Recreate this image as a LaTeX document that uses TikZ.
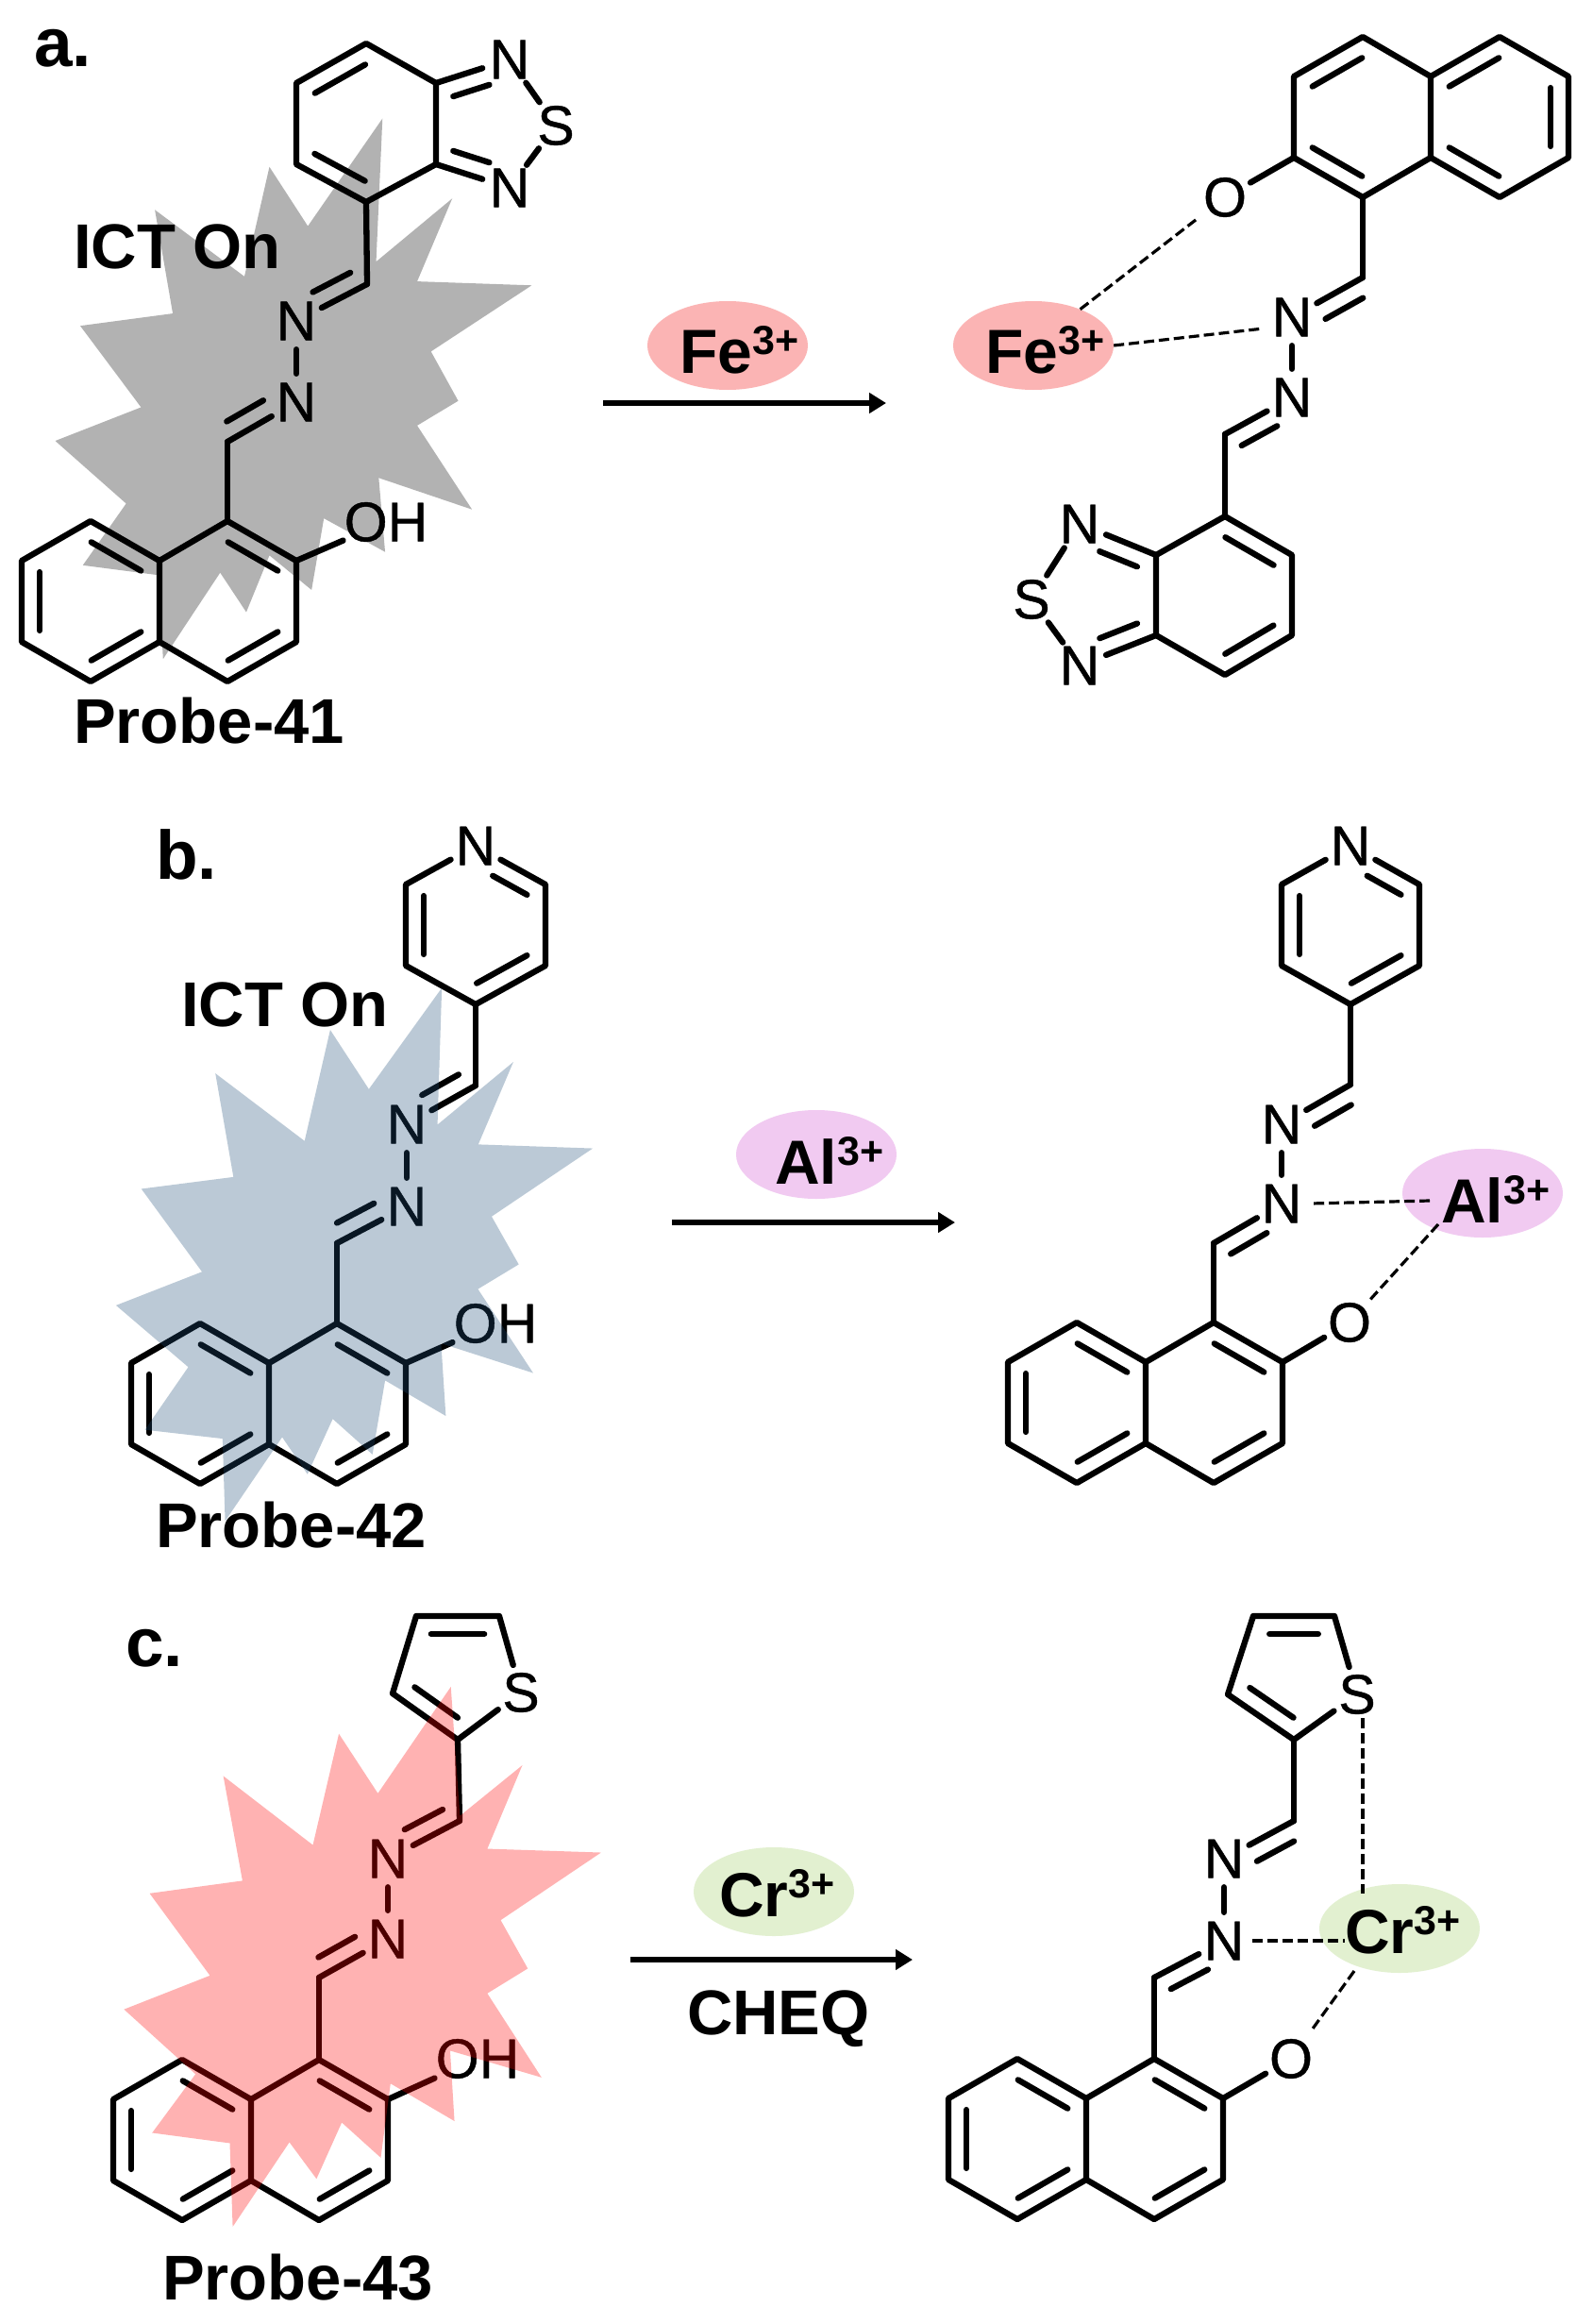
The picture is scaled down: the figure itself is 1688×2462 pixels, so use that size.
\documentclass[tikz,border=0pt]{standalone}
\usepackage{fontspec}
\setmainfont{Liberation Sans}
\newfontfamily\atomfam[FakeBold=0.7]{Liberation Sans}
\usetikzlibrary{calc,arrows.meta,shapes.geometric}
\definecolor{feion}{HTML}{FBB4B4}
\definecolor{alion}{HTML}{F1CAF1}
\definecolor{crion}{HTML}{E2F0D0}
\definecolor{starblue}{HTML}{1F4E79}
\newcommand\atomfont{\fontsize{59}{62}\atomfam\selectfont}
\newcommand\labfont{\fontsize{67}{72}\selectfont\bfseries}
\newcommand\ionfont{\fontsize{66}{70}\selectfont\bfseries}
\newcommand\panelfont{\fontsize{73}{77}\selectfont\bfseries}
\newcommand\ionsup{\raisebox{20pt}{\fontsize{43}{43}\selectfont 3+}}
% inner line of a double bond: from a to b, on side given by angle, fractions f1..f2
\newcommand\db[5]{\draw[bond] ($(#1)!#4!(#2)!19pt!#3:(#2)$) -- ($(#1)!#5!(#2)!19pt!#3:(#2)$);}
\newcommand\ringdb[2]{\db{#1}{#2}{-90}{0.14}{0.86}}
\newcommand\cn[3]{\draw[bond] (#1) -- (#2); \db{#1}{#2}{#3}{0.12}{0.65}}
\newcommand\naph[5]{%
  \coordinate (#1c1) at (#2,#3);
  \coordinate (#1c2) at ({#2+#4*73},{#3+#5*42});
  \coordinate (#1c3) at ({#2+#4*73},{#3+#5*128});
  \coordinate (#1c4) at ({#2},{#3+#5*170});
  \coordinate (#1c4a) at ({#2-#4*72},{#3+#5*128});
  \coordinate (#1c8a) at ({#2-#4*72},{#3+#5*42});
  \coordinate (#1c8) at ({#2-#4*145},{#3});
  \coordinate (#1c7) at ({#2-#4*218},{#3+#5*42});
  \coordinate (#1c6) at ({#2-#4*218},{#3+#5*128});
  \coordinate (#1c5) at ({#2-#4*145},{#3+#5*170});
  \draw[bond] (#1c1) -- (#1c2) -- (#1c3) -- (#1c4) -- (#1c4a) -- (#1c8a) -- cycle;
  \draw[bond] (#1c8a) -- (#1c8) -- (#1c7) -- (#1c6) -- (#1c5) -- (#1c4a);
  \ringdb{#1c1}{#1c2}\ringdb{#1c3}{#1c4}\ringdb{#1c8}{#1c8a}\ringdb{#1c4a}{#1c5}\ringdb{#1c6}{#1c7}}
\begin{document}
\begin{tikzpicture}[x=1pt,y=-1pt,
  bond/.style={line width=6.3pt,line cap=round,line join=round},
  atom/.style={circle,inner sep=0pt,minimum size=60pt,font=\atomfont},
  ohlab/.style={rectangle,inner sep=1pt,font=\atomfont},
  lab/.style={anchor=base west,inner sep=0pt,font=\labfont},
  ionlab/.style={anchor=base west,inner sep=0pt,font=\ionfont},
  panel/.style={anchor=base west,inner sep=0pt,font=\panelfont},
  ion/.style={ellipse,minimum width=170pt,minimum height=94pt,inner sep=0pt},
  dashbond/.style={line width=3.2pt,dash pattern=on 11pt off 5pt},
  rxn/.style={line width=5.5pt,-{Triangle[length=18pt,width=21pt]}}]
\path[use as bounding box,fill=white] (0,0) rectangle (1688,2462);

%% ---------- panel a, left
\node[panel] (pa) at (36,71) {a.};
\coordinate (a1) at (388,46); \coordinate (a2) at (462,88); \coordinate (a3) at (462,174);
\coordinate (a4) at (388,214); \coordinate (a5) at (314,174); \coordinate (a6) at (314,88);
\draw[bond] (a1) -- (a2) -- (a3) -- (a4) -- (a5) -- (a6) -- cycle;
\ringdb{a6}{a1}\ringdb{a4}{a5}
\node[atom] (aN1) at (540,63) {N}; \node[atom] (aS) at (589,133) {S}; \node[atom] (aN2) at (540,199) {N};
\draw[bond] (a2) -- (aN1); \db{a2}{aN1}{-90}{0.16}{0.65}
\draw[bond] (a3) -- (aN2); \db{a3}{aN2}{90}{0.16}{0.65}
\draw[bond] (aN1) -- (aS); \draw[bond] (aN2) -- (aS);
\coordinate (ac) at (389,301); \draw[bond] (a4) -- (ac);
\node[atom] (an1) at (314,340) {N}; \node[atom] (an2) at (314,426) {N};
\cn{ac}{an1}{-90}
\draw[bond] (an1) -- (an2);
\coordinate (ad) at (241,468); \cn{ad}{an2}{90}
\naph{al}{241}{552}{1}{1}
\draw[bond] (ad) -- (alc1);
\node[ohlab] (aOH) at (409,553) {OH}; \draw[bond] (alc2) -- (aOH);
\node[lab] (aict) at (78,284) {ICT On};
\node[lab] (aprobe) at (78,787) {Probe-41};
\begin{scope}[x=.3954pt,y=-.523pt]
\fill[black,opacity=.3] (1025,240) -- (1008,530) -- (1212,402) -- (1118,570) -- (1425,578) -- (1155,712) -- (1228,812) -- (1118,862) -- (1265,1032) -- (1015,968) -- (1032,1118) -- (868,1050) -- (835,1195) -- (722,1125) -- (660,1240) -- (590,1160) -- (437,1335) -- (425,1165) -- (222,1145) -- (338,1020) -- (148,893) -- (378,825) -- (215,660) -- (463,635) -- (415,425) -- (655,560) -- (722,338) -- (825,458) -- cycle;
\end{scope}

%% panel a, arrow
\node[ion,fill=feion] (feT) at (771,366) {};
\node[ionlab] (feTt) at (720,395) {Fe\ionsup};
\coordinate (aa1) at (639,427); \coordinate (aa2) at (939,427);
\draw[rxn] (aa1) -- (aa2);

%% panel a, right
\naph{ar}{1444}{209}{-1}{-1}
\node[atom] (arO) at (1298,209) {O}; \draw[bond] (arc2) -- (arO);
\coordinate (arc) at (1444,294); \draw[bond] (arc1) -- (arc);
\node[atom] (arn1) at (1369,336) {N}; \node[atom] (arn2) at (1369,421) {N};
\cn{arc}{arn1}{90}
\draw[bond] (arn1) -- (arn2);
\coordinate (ard) at (1298,460); \cn{ard}{arn2}{-90}
\coordinate (b1) at (1298,547); \coordinate (b2) at (1369,588); \coordinate (b3) at (1369,673);
\coordinate (b4) at (1298,715); \coordinate (b5) at (1225,673); \coordinate (b6) at (1225,588);
\draw[bond] (ard) -- (b1);
\draw[bond] (b1) -- (b2) -- (b3) -- (b4) -- (b5) -- (b6) -- cycle;
\ringdb{b1}{b2}\ringdb{b3}{b4}
\node[atom] (bN1) at (1144,555) {N}; \node[atom] (bS) at (1093,635) {S}; \node[atom] (bN2) at (1144,705) {N};
\draw[bond] (b6) -- (bN1); \db{b6}{bN1}{90}{0.16}{0.65}
\draw[bond] (b5) -- (bN2); \db{b5}{bN2}{-90}{0.16}{0.65}
\draw[bond] (bN1) -- (bS); \draw[bond] (bN2) -- (bS);
\node[ion,fill=feion] (feR) at (1095,366) {};
\node[ionlab] (feRt) at (1044,395) {Fe\ionsup};
\draw[dashbond,shorten >=8pt] (feR) -- (arO);
\draw[dashbond] (feR.east) -- ([yshift=-12pt]arn1.west);

%% ---------- panel b, left
\node[panel] (pb) at (165,931) {b.};
\node[atom] (c1) at (504,896) {N};
\coordinate (c2) at (578,937); \coordinate (c3) at (578,1023); \coordinate (c4) at (504,1064);
\coordinate (c5) at (430,1023); \coordinate (c6) at (430,937);
\draw[bond] (c1) -- (c2) -- (c3) -- (c4) -- (c5) -- (c6) -- (c1);
\db{c1}{c2}{-90}{0.37}{0.86}\ringdb{c3}{c4}\ringdb{c5}{c6}
\coordinate (bc) at (504,1150); \draw[bond] (c4) -- (bc);
\node[atom] (bln1) at (431,1191) {N}; \node[atom] (bln2) at (431,1278) {N};
\cn{bc}{bln1}{-90}
\draw[bond] (bln1) -- (bln2);
\coordinate (bd) at (357,1317); \cn{bd}{bln2}{90}
\naph{bl}{357}{1402}{1}{1}
\draw[bond] (bd) -- (blc1);
\node[ohlab] (bOH) at (525,1402) {OH}; \draw[bond] (blc2) -- (bOH);
\node[lab] (bict) at (192,1087) {ICT On};
\node[lab] (bprobe) at (165,1639) {Probe-42};
\begin{scope}[shift={(100,840)},x=.3827pt,y=-.523pt]
\fill[starblue,opacity=.3] (962,395) -- (950,672) -- (1160,545) -- (1063,712) -- (1380,720) -- (1100,858) -- (1175,955) -- (1062,1005) -- (1215,1175) -- (960,1115) -- (973,1262) -- (805,1190) -- (770,1340) -- (660,1268) -- (590,1380) -- (520,1305) -- (362,1475) -- (355,1308) -- (140,1290) -- (260,1163) -- (60,1038) -- (298,970) -- (130,802) -- (385,778) -- (335,568) -- (582,705) -- (653,480) -- (760,600) -- cycle;
\end{scope}

%% panel b, arrow
\node[ion,fill=alion] (alT) at (865,1223) {};
\node[ionlab] (alTt) at (821,1254) {Al\ionsup};
\coordinate (ba1) at (712,1295); \coordinate (ba2) at (1012,1295);
\draw[rxn] (ba1) -- (ba2);

%% panel b, right
\node[atom] (d1) at (1431,896) {N};
\coordinate (d2) at (1504,937); \coordinate (d3) at (1504,1023); \coordinate (d4) at (1431,1064);
\coordinate (d5) at (1358,1023); \coordinate (d6) at (1358,937);
\draw[bond] (d1) -- (d2) -- (d3) -- (d4) -- (d5) -- (d6) -- (d1);
\db{d1}{d2}{-90}{0.37}{0.86}\ringdb{d3}{d4}\ringdb{d5}{d6}
\coordinate (brc) at (1431,1149); \draw[bond] (d4) -- (brc);
\node[atom] (brn1) at (1358,1191) {N}; \node[atom] (brn2) at (1358,1275) {N};
\cn{brc}{brn1}{90}
\draw[bond] (brn1) -- (brn2);
\coordinate (brd) at (1286,1317); \cn{brd}{brn2}{-90}
\naph{br}{1286}{1401}{1}{1}
\draw[bond] (brd) -- (brc1);
\node[atom] (brO) at (1430,1401) {O}; \draw[bond] (brc2) -- (brO);
\node[ion,fill=alion] (alR) at (1571,1264) {};
\node[ionlab] (alRt) at (1527,1295) {Al\ionsup};
\coordinate (aldash) at (1515,1272);
\draw[dashbond,shorten <=4pt] (brn2.east) -- (aldash);
\coordinate (alo) at (1524,1297);
\draw[dashbond] (alo) -- (brO);

%% ---------- panel c, left
\node[panel] (pc) at (133,1765) {c.};
\node[atom] (eS) at (552,1793) {S};
\coordinate (e5) at (529,1712); \coordinate (e4) at (441,1712); \coordinate (e3) at (416,1794); \coordinate (e2) at (485,1843);
\draw[bond] (eS) -- (e5) -- (e4) -- (e3) -- (e2) -- (eS);
\db{e4}{e5}{-90}{0.18}{0.82}\db{e2}{e3}{-90}{0.16}{0.82}
\coordinate (ec) at (487,1929); \draw[bond] (e2) -- (ec);
\node[atom] (cln1) at (411,1969) {N}; \node[atom] (cln2) at (411,2054) {N};
\cn{ec}{cln1}{-90}
\draw[bond] (cln1) -- (cln2);
\coordinate (ed) at (338,2095); \cn{ed}{cln2}{90}
\naph{cl}{338}{2182}{1}{1}
\draw[bond] (ed) -- (clc1);
\node[ohlab] (cOH) at (506,2181) {OH}; \draw[bond] (clc2) -- (cOH);
\node[lab] (cprobe) at (172,2436) {Probe-43};
\begin{scope}[shift={(100,1680)},x=.3827pt,y=-.4974pt]
\fill[red,opacity=.3] (987,215) -- (1012,490) -- (1185,382) -- (1088,560) -- (1403,568) -- (1125,712) -- (1200,815) -- (1088,868) -- (1238,1047) -- (985,990) -- (997,1140) -- (820,1060) -- (793,1218) -- (685,1143) -- (615,1263) -- (540,1185) -- (383,1365) -- (375,1187) -- (160,1165) -- (280,1040) -- (82,902) -- (320,830) -- (153,655) -- (410,628) -- (357,405) -- (605,552) -- (677,315) -- (785,442) -- cycle;
\end{scope}

%% panel c, arrow
\node[ion,fill=crion] (crT) at (820,2004) {};
\node[ionlab] (crTt) at (762,2030) {Cr\ionsup};
\coordinate (ca1) at (668,2076); \coordinate (ca2) at (967,2076);
\draw[rxn] (ca1) -- (ca2);
\node[lab] (cheq) at (728,2155) {CHEQ};

%% panel c, right
\node[atom] (fS) at (1438,1795) {S};
\coordinate (f5) at (1414,1712); \coordinate (f4) at (1328,1712); \coordinate (f3) at (1301,1795); \coordinate (f2) at (1371,1843);
\draw[bond] (fS) -- (f5) -- (f4) -- (f3) -- (f2) -- (fS);
\db{f4}{f5}{-90}{0.2}{0.8}\db{f2}{f3}{-90}{0.16}{0.82}
\coordinate (fc) at (1371,1929); \draw[bond] (f2) -- (fc);
\node[atom] (crn1) at (1297,1969) {N}; \node[atom] (crn2) at (1297,2056) {N};
\cn{fc}{crn1}{90}
\draw[bond] (crn1) -- (crn2);
\coordinate (fd) at (1223,2095); \cn{fd}{crn2}{-90}
\naph{crr}{1223}{2181}{1}{1}
\draw[bond] (fd) -- (crrc1);
\node[atom] (crO) at (1368,2181) {O}; \draw[bond] (crrc2) -- (crO);
\node[ion,fill=crion] (crR) at (1483,2043) {};
\node[ionlab] (crRt) at (1425,2069) {Cr\ionsup};
\coordinate (crs) at (1444,2006);
\coordinate (crst) at (1444,1820);
\draw[dashbond] (crst) -- (crs);
\coordinate (crnd) at (1425,2056);
\draw[dashbond] (crn2.east) -- (crnd);
\coordinate (cro) at (1435,2088);
\draw[dashbond,shorten >=8pt] (cro) -- (crO);
\end{tikzpicture}
\end{document}
